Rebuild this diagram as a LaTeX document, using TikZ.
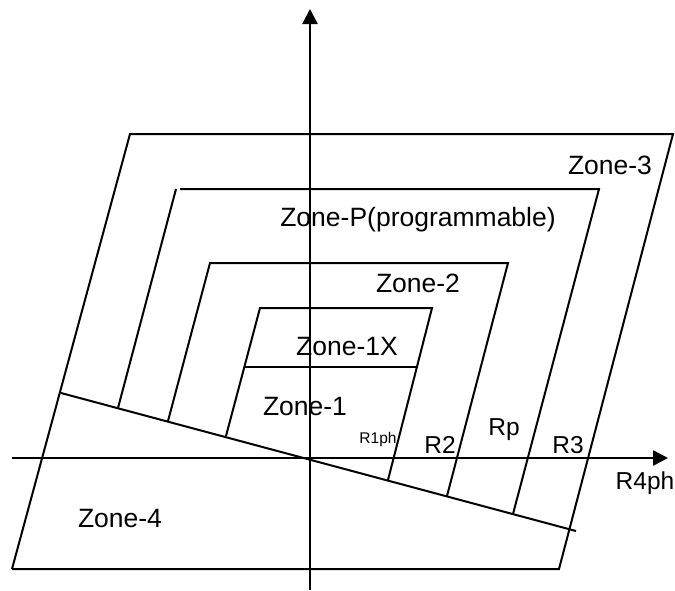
\documentclass[tikz,border=0pt]{standalone}
\usepackage{fontspec}
\setmainfont{Liberation Sans}
\usetikzlibrary{arrows.meta}
\begin{document}
\begin{tikzpicture}[x=1pt,y=-1pt,
  zline/.style={line width=2pt},
  axis/.style={line width=2.6pt,-{Triangle[length=15pt,width=15pt]}},
  lbl/.style={font=\fontsize{26.5}{30}\selectfont,inner sep=0pt},
  rlbl/.style={font=\fontsize{24.5}{28}\selectfont,inner sep=0pt},
  slbl/.style={font=\fontsize{15.5}{18}\selectfont,inner sep=0pt}]
\useasboundingbox (0,0) rectangle (675,590);
% coordinates
\coordinate (yb) at (310,590);
\coordinate (yt) at (310,9);
\coordinate (xl) at (12,458);
\coordinate (xr) at (668,458);
% zone 3
\coordinate (z3tl) at (130,134);
\coordinate (z3tr) at (673,134);
\coordinate (z3br) at (559,569);
\coordinate (z3bl) at (12,569);
% zone 4 line
\coordinate (z4l) at (61,393);
\coordinate (z4r) at (576,531);
% zone P
\coordinate (zptl) at (176,189);
\coordinate (zptlh) at (180,189);
\coordinate (zptr) at (599,189);
\coordinate (zpbl) at (118,408);
\coordinate (zpbr) at (513,514);
% zone 2
\coordinate (z2tl) at (210,263);
\coordinate (z2tr) at (508,263);
\coordinate (z2bl) at (168,421);
\coordinate (z2br) at (447,496);
% zone 1
\coordinate (z1tl) at (260,308);
\coordinate (z1tr) at (432,308);
\coordinate (z1bl) at (226,436);
\coordinate (z1br) at (388,480);
\coordinate (z1xl) at (244,367);
\coordinate (z1xr) at (417,367);

% zone 3 outline
\draw[zline] (z3bl) -- (z3br) -- (z3tr) -- (z3tl) -- (z3bl);
% zone 4 line
\draw[zline] (z4l) -- (z4r);
% zone P
\draw[zline] (zpbl) -- (zptl);
\draw[zline] (zptlh) -- (zptr) -- (zpbr);
% zone 2
\draw[zline] (z2bl) -- (z2tl) -- (z2tr) -- (z2br);
% zone 1
\draw[zline] (z1bl) -- (z1tl) -- (z1tr) -- (z1br);
\draw[zline] (z1xl) -- (z1xr);
% axes
\draw[axis] (yb) -- (yt);
\draw[axis] (xl) -- (xr);

% labels
\node[lbl] (l3) at (610,165) {Zone-3};
\node[lbl] (lp) at (418,220) {Zone-P(programmable)};
\node[lbl] (l2) at (418,283) {Zone-2};
\node[lbl] (l1x) at (347,347) {Zone-1X};
\node[lbl] (l1) at (305,407) {Zone-1};
\node[lbl] (l4) at (120,519) {Zone-4};
\node[slbl] (r1) at (378,439) {R1ph};
\node[rlbl] (r2) at (440,445) {R2};
\node[rlbl] (rp) at (504,430) {Rp};
\node[rlbl] (r3) at (568,445) {R3};
\node[rlbl] (r4) at (645,483) {R4ph};
\end{tikzpicture}
\end{document}
